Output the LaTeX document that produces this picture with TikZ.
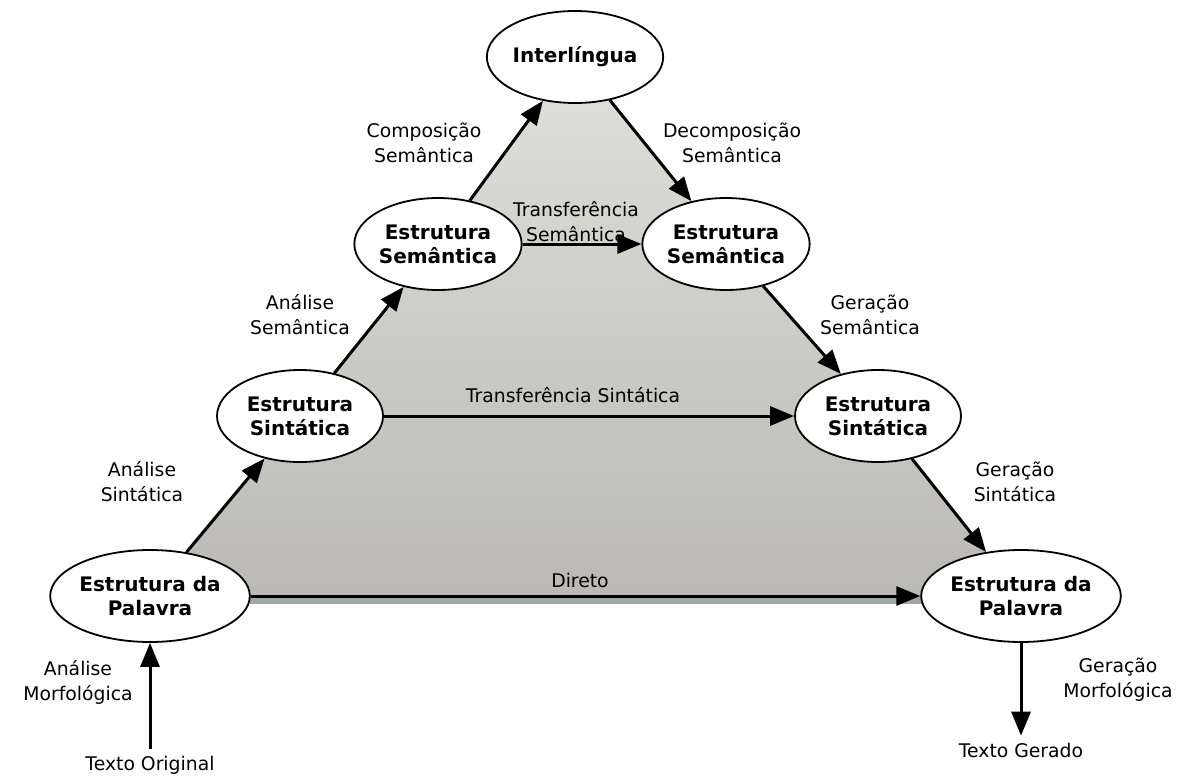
\documentclass[tikz,border=0pt]{standalone}
\usepackage{fontspec}
\setmainfont{DejaVu Sans}
\usetikzlibrary{arrows.meta,backgrounds,shapes.geometric}

\definecolor{fundoTopo}{RGB}{224,225,217}
\definecolor{fundoBase}{RGB}{186,185,181}
\definecolor{sombra}{RGB}{160,168,165}

\tikzset{
    nivel/.style={ellipse,draw=black,line width=0.9pt,fill=white,inner sep=0pt,
        minimum width=83pt,minimum height=46pt,align=center,font=\bfseries},
    passo/.style={align=center},
    seta/.style={line width=1.5pt,-{Triangle[length=12pt,width=9.5pt]}}
}

\begin{document}
\begin{tikzpicture}[x=0.5pt,y=-0.5pt,font=\fontsize{9.4}{12.5}\selectfont]
    \useasboundingbox (0,0) rectangle (1182,781);

    % niveis da piramide
    \node[nivel] (inter) at (575,57) {Interlíngua};
    \node[nivel] (semE) at (438,244) {Estrutura\\Semântica};
    \node[nivel] (semD) at (726,244) {Estrutura\\Semântica};
    \node[nivel] (sinE) at (300,416) {Estrutura\\Sintática};
    \node[nivel] (sinD) at (878,416) {Estrutura\\Sintática};
    \node[nivel] (palE) at (150,596) {Estrutura da\\Palavra};
    \node[nivel] (palD) at (1021,596) {Estrutura da\\Palavra};

    \node (orig) at (150,765) {Texto Original};
    \node (ger) at (1021,750) {Texto Gerado};

    % fundo cinza do triangulo
    \begin{scope}[on background layer]
        \fill[sombra] (palE.center) rectangle ([yshift=-4pt]palD.center);
        \shade[top color=fundoTopo,bottom color=fundoBase] (palE.center) -- (sinE.center) -- (semE.center)
            -- (inter.center) -- (semD.center) -- (sinD.center) -- (palD.center) -- cycle;
    \end{scope}

    % subida
    \draw[seta] (orig) -- (palE);
    \draw[seta] (palE) -- (sinE);
    \draw[seta] (sinE) -- (semE);
    \draw[seta] (semE) -- (inter);
    % descida
    \draw[seta] (inter) -- (semD);
    \draw[seta] (semD) -- (sinD);
    \draw[seta] (sinD) -- (palD);
    \draw[seta] (palD) -- (ger);
    % transferencias
    \draw[seta] (semE) -- (semD);
    \draw[seta] (sinE) -- (sinD);
    \draw[seta] (palE) -- (palD);

    \node[passo] (lmorf) at (78,682) {Análise\\Morfológica};
    \node[passo] (lsin) at (142,482) {Análise\\Sintática};
    \node[passo] (lsem) at (300,315) {Análise\\Semântica};
    \node[passo] (lcomp) at (424,143) {Composição\\Semântica};
    \node[passo] (ldec) at (732,143) {Decomposição\\Semântica};
    \node[passo] (ltsem) at (576,222) {Transferência\\Semântica};
    \node[passo] (lgsem) at (870,315) {Geração\\Semântica};
    \node[passo] (ltsin) at (573,395) {Transferência Sintática};
    \node[passo] (lgsin) at (1015,482) {Geração\\Sintática};
    \node[passo] (ldir) at (580,580) {Direto};
    \node[passo] (lgmorf) at (1118,680) {Geração\\Morfológica};

\end{tikzpicture}
\end{document}
